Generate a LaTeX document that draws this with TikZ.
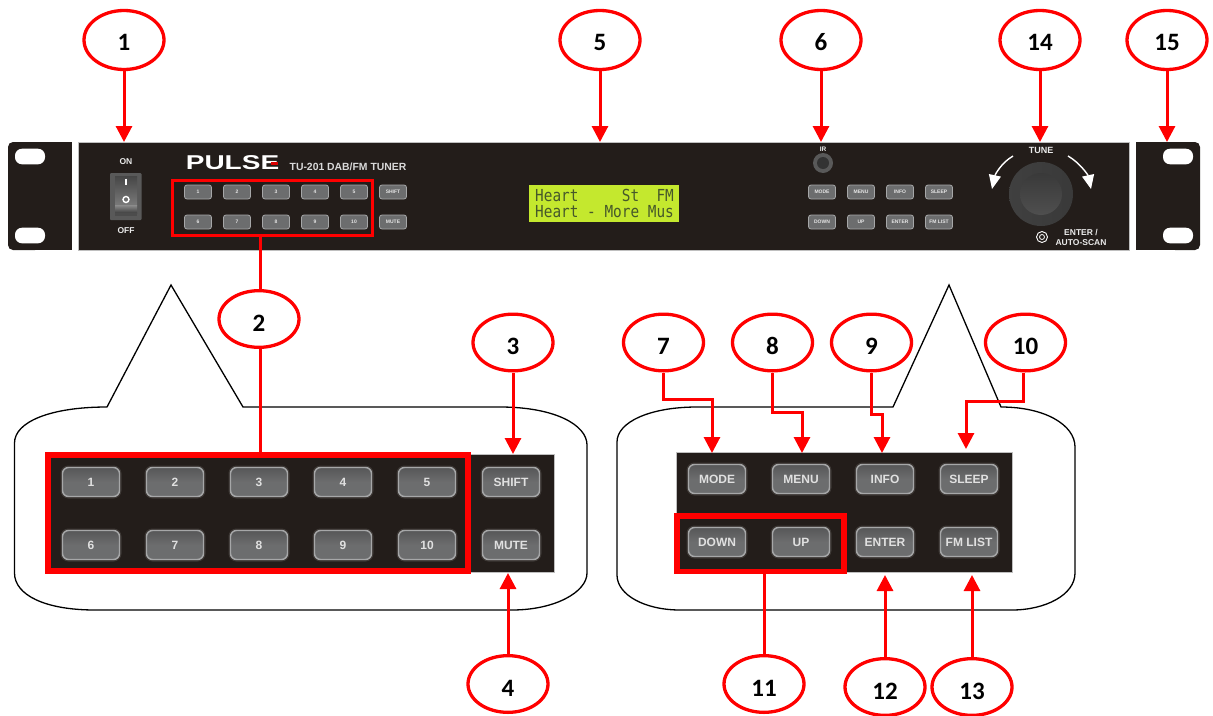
\documentclass[tikz,border=0pt]{standalone}
\usepackage{fontspec}
\setmainfont{Liberation Sans}
\newfontfamily\lcdfont{DejaVu Sans Mono}
\newfontfamily\numfont{Carlito}
\usetikzlibrary{shapes.geometric,arrows.meta,calc}
\definecolor{panelc}{HTML}{231D1A}
\definecolor{btnc}{HTML}{6C6D6E}
\definecolor{btne}{HTML}{A6A7A8}
\definecolor{lcdc}{HTML}{C4E82E}
\definecolor{lcdt}{HTML}{46582A}
\definecolor{redc}{HTML}{FF0000}
\tikzset{
 panel/.style={fill=panelc,draw=black!25,line width=.5pt},
 callout/.style={ellipse,draw=redc,line width=3.3pt,fill=white,minimum width=80pt,minimum height=56.7pt,inner sep=0pt,font=\numfont\fontsize{25}{25}\selectfont\bfseries,text=black},
 calloutt/.style={callout,minimum height=59pt},
 bigbtn/.style={rounded corners=6pt,draw=btne,line width=1.4pt,top color=btnc!80!black,bottom color=btnc,middle color=btnc,minimum width=57pt,minimum height=29pt,inner sep=0pt,text=white!88!black,font=\fontsize{12}{12}\selectfont\bfseries,preaction={draw=white!12!panelc,line width=4pt}},
 smallbtn/.style={rounded corners=2.5pt,draw=btne,line width=.8pt,fill=btnc,minimum width=27pt,minimum height=14pt,inner sep=0pt,text=white!90!black,font=\fontsize{5}{5}\selectfont\bfseries},
 plabel/.style={text=white!92!black,inner sep=0pt,font=\fontsize{8.5}{8.5}\selectfont\bfseries},
 redbox/.style={draw=redc,rectangle},
 callarrow/.style={draw=redc,line width=3pt,-{Triangle[length=16pt,width=16pt]}},
 callline/.style={draw=redc,line width=3pt},
 bubble/.style={draw=black,line width=1.3pt},
 whitearrow/.style={draw=white,line width=1.4pt,-{Triangle[length=14pt,width=12pt]}},
 lcdline/.style={inner sep=0pt,anchor=west,text=lcdt,font=\lcdfont\fontsize{14.4}{14.4}\selectfont},
}
\begin{document}
\begin{tikzpicture}[x=1pt,y=-1pt]
\useasboundingbox (0,0) rectangle (1213,715);
% rack panel
\fill[panelc,rounded corners=5pt] (8,142) rectangle (40,250);
\fill[panelc] (20,142) rectangle (72,250);
\fill[panel] (78,142) rectangle (1129,250);
\fill[panelc] (1136,142) rectangle (1180,250);
\fill[panelc,rounded corners=5pt] (1170,142) rectangle (1200,250);
\foreach \hx/\hy in {30/156.5,30/235.5,1178/156.5,1178/235.5}
  \fill[white,rounded corners=7pt] (\hx-15,\hy-7.8) rectangle (\hx+15,\hy+7.8);
% power switch
\node[plabel] (on) at (126,162) {ON};
\node[plabel] (off) at (126,231) {OFF};
\fill[gray!70!black,rounded corners=1pt] (110,173) rectangle (141.5,220);
\shade[top color=gray!55!black,bottom color=gray!95!black] (115,176) rectangle (137,205);
\shade[top color=gray!90!white,bottom color=gray!50!black] (115,205) rectangle (137,213);
\fill[black!70] (115,213) rectangle (137,216);
\draw[white,line width=1.4pt] (126,178.5) -- (126,185);
\draw[white,line width=1.4pt] (126,199.5) circle (3pt);
% brand
\node[inner sep=0pt,text=white,font=\fontsize{20}{20}\selectfont\bfseries] (brand) at (232.5,163) {\scalebox{1.4}[1]{PULSE}};
\fill[redc!85!black] (271,162) rectangle (278,164.5);
\node[inner sep=0pt,text=white!85!black,font=\fontsize{10.4}{10.4}\selectfont\bfseries] (model) at (348,166.5) {TU-201 DAB/FM TUNER};
% small buttons
\foreach \lab [count=\i] in {1,2,3,4,5} {
  \node[smallbtn] (sa\i) at ({198+39*(\i-1)},192) {\lab};
}
\foreach \lab [count=\i] in {6,7,8,9,10} {
  \node[smallbtn] (sb\i) at ({198+39*(\i-1)},222) {\lab};
}
\node[smallbtn] (sshift) at (393,192) {SHIFT};
\node[smallbtn] (smute) at (393,222) {MUTE};
\draw[redbox,line width=3pt] (172.5,180) rectangle (372.5,235);
\coordinate (boxabot) at (260.5,235);
% display
\fill[lcdc] (529,185) rectangle (679,221.5);
\node[lcdline] (lcd1) at (535,195.5) {\scalebox{1}[1.15]{Heart\ \ \ \ \ St\ \ FM}};
\node[lcdline] (lcd2) at (535,212) {\scalebox{1}[1.15]{Heart - More Mus}};
% IR
\node[plabel,font=\fontsize{6.5}{6.5}\selectfont\bfseries] (ir) at (823,149) {IR};
\fill[gray!70!black] (823,163) circle (10pt);
\fill[gray!40!black] (823,163) circle (6pt);
% small right buttons
\foreach \lab/\px/\py/\nm in {MODE/822/192/ta,MENU/861/192/tb,INFO/900/192/tc,SLEEP/939/192/td,DOWN/822/222/te,UP/861/222/tf,ENTER/900/222/tg,FM LIST/939/222/th}
  \node[smallbtn] (\nm) at (\px,\py) {\lab};
% knob
\node[plabel,font=\fontsize{9}{9}\selectfont\bfseries] (tune) at (1041,150) {TUNE};
\shade[left color=gray!50!black,right color=gray!45!black] (1041,194) circle (32pt);
\shade[top color=gray!45!black,bottom color=gray!62!black] (1041,194) circle (21pt);
\draw[whitearrow] (1013,156) .. controls (1001,163) and (995,175) .. (992,189);
\draw[whitearrow] (1068,156) .. controls (1080,163) and (1088,175) .. (1091,189);
\draw[white,line width=.9pt] (1042,237) circle (5.5pt);
\draw[white,line width=.8pt] (1042,237) circle (2.5pt);
\node[plabel,align=center,font=\fontsize{8.5}{10}\selectfont\bfseries] (enter) at (1081,237) {ENTER /\\AUTO-SCAN};
% bubbles
\draw[bubble] (107,407) -- (171,285) -- (243,407) -- (500,407)
  .. controls (555,407) and (587,425) .. (587,445) -- (587,573)
  .. controls (587,592) and (555,610) .. (512,610) -- (95,610)
  .. controls (45,610) and (14.5,595) .. (14.5,573) -- (14.5,443)
  .. controls (14.5,422) and (50,407) .. (107,407) -- cycle;
\draw[bubble] (893,407) -- (949,285) -- (1001,407)
  .. controls (1045,407) and (1075,425) .. (1075,447) -- (1075,573)
  .. controls (1075,595) and (1045,610) .. (1012,610) -- (680,610)
  .. controls (645,610) and (617,595) .. (617,575) -- (617,442)
  .. controls (617,422) and (650,407) .. (697,407) -- cycle;
% lower panels
\fill[panel] (46,454) rectangle (554,572);
\fill[panel] (676,452) rectangle (1012.5,572);
\foreach \lab [count=\i] in {1,2,3,4,5} {
  \node[bigbtn] (ba\i) at ({91+84*(\i-1)},482) {\lab};
}
\foreach \lab [count=\i] in {6,7,8,9,10} {
  \node[bigbtn] (bb\i) at ({91+84*(\i-1)},545) {\lab};
}
\node[bigbtn] (bshift) at (511,482) {SHIFT};
\node[bigbtn] (bmute) at (511,545) {MUTE};
\foreach \lab/\px/\py/\nm in {MODE/717/479/ca,MENU/801/479/cb,INFO/885/479/cc,SLEEP/969/479/cd,DOWN/717/542/ce,UP/801/542/cf,ENTER/885/542/cg,FM LIST/969/542/ch}
  \node[bigbtn] (\nm) at (\px,\py) {\lab};
\draw[redbox,line width=6pt] (48,455) rectangle (468,571);
\draw[redbox,line width=5.5pt] (676.75,516) rectangle (844,571.25);
% callouts
\foreach \lab/\px/\py in {1/124/40,5/600/40,6/821/40,14/1040/40,15/1167/40}
  \node[calloutt] (c\lab) at (\px,\py) {\raisebox{-10.5pt}[0pt][0pt]{\lab}};
\foreach \lab/\px/\py in {2/259/319,3/513/342.5,7/663.5/342.5,8/772.5/342.5,9/871.5/342.5,10/1025.5/342.5,4/508/684,11/764/684,12/885/687,13/972/687}
  \node[callout] (c\lab) at (\px,\py) {\raisebox{-12pt}[0pt][0pt]{\lab}};
% connector ends
\foreach \nm/\px/\py in {t1/124/142,t5/600/142,t6/821/142,t14/1040/142,t15/1167/142,t3/513/454,t4/508/573,t7/712/453,t8/802/453,t9/882/453,t10/966/449,t2/260.5/453,t11/764/574,t12/885/575,t13/972/575}
  \coordinate (\nm) at (\px,\py);
\draw[callarrow] (c1) -- (t1);
\draw[callarrow] (c5) -- (t5);
\draw[callarrow] (c6) -- (t6);
\draw[callarrow] (c14) -- (t14);
\draw[callarrow] (c15) -- (t15);
\draw[callline] (boxabot) -- (c2.north -| boxabot);
\draw[callline] (c2.south -| t2) -- (t2);
\draw[callarrow] (c3) -- (t3);
\draw[callarrow] (c4) -- (t4);
\draw[callarrow] (c7.south) -- (663.5,399) -| (t7);
\draw[callarrow] (c8.south) -- (772.5,412) -| (t8);
\draw[callarrow] (c9.south) -- (871.5,414) -| (t9);
\draw[callarrow] (c10.south -| 1023,0) -- (1023,401) -| (t10);
\draw[callline] (c11) -- (t11);
\draw[callarrow] (c12) -- (t12);
\draw[callarrow] (c13) -- (t13);
\end{tikzpicture}
\end{document}
